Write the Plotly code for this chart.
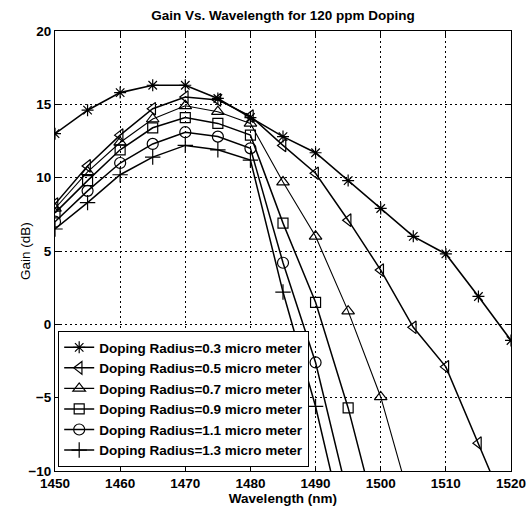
import plotly.graph_objects as go

wavelength = [1450, 1455, 1460, 1465, 1470, 1475, 1480, 1485, 1490, 1495, 1500, 1505, 1510, 1515, 1520]

gain_r03 = [13.0, 14.6, 15.8, 16.3, 16.3, 15.4, 14.1, 12.8, 11.7, 9.8, 7.9, 6.0, 4.8, 1.9, -1.1]
gain_r05 = [8.2, 10.8, 12.9, 14.7, 15.5, 15.3, 14.2, 12.2, 10.3, 7.1, 3.7, -0.2, -2.9, -8.1, -13.4]
gain_r07 = [7.9, 10.4, 12.4, 14.0, 14.9, 14.5, 13.7, 9.7, 6.0, 0.9, -4.95, -12.8, None, None, None]
gain_r09 = [7.6, 9.8, 11.9, 13.4, 14.1, 13.7, 12.9, 6.9, 1.5, -5.7, -14.3, None, None, None, None]
gain_r11 = [7.0, 9.1, 11.0, 12.3, 13.1, 12.8, 12.0, 4.2, -2.6, -11.8, None, None, None, None, None]
gain_r13 = [6.5, 8.3, 10.2, 11.4, 12.2, 11.9, 11.2, 2.2, -5.6, -15.1, None, None, None, None, None]

labels = [
    "Doping Radius=0.3 micro meter",
    "Doping Radius=0.5 micro meter",
    "Doping Radius=0.7 micro meter",
    "Doping Radius=0.9 micro meter",
    "Doping Radius=1.1 micro meter",
    "Doping Radius=1.3 micro meter",
]
series = [gain_r03, gain_r05, gain_r07, gain_r09, gain_r11, gain_r13]
symbols = ["asterisk-open", "triangle-left-open", "triangle-up-open",
           "square-open", "circle-open", "cross-thin-open"]
sizes = [10, 11, 11, 10, 11, 11]
widths = [1.6, 1.5, 1.1, 1.5, 1.5, 1.5]

x_ticks = [1450, 1460, 1470, 1480, 1490, 1500, 1510, 1520]
y_ticks = [-10, -5, 0, 5, 10, 15, 20]

FONT = "Liberation Sans, Arial, sans-serif"
FS = 13.5

fig = go.Figure()
for lab, ys, sym, sz, w in zip(labels, series, symbols, sizes, widths):
    fig.add_trace(go.Scatter(
        x=wavelength, y=ys, name=lab, mode="lines+markers",
        line=dict(color="black", width=w),
        marker=dict(symbol=sym, size=sz, color="black",
                    line=dict(color="black", width=1.2)),
        cliponaxis=True,
    ))

axis_common = dict(
    showline=True, linecolor="black", linewidth=1, mirror="ticks",
    ticks="inside", ticklen=5, tickcolor="black",
    showgrid=True, gridcolor="black", griddash="2px,3px", gridwidth=0.8,
    zeroline=False, automargin=False,
    tickfont=dict(family=FONT, size=FS, color="black", weight="bold"),
)

fig.update_layout(
    width=532, height=508,
    margin=dict(l=55, r=21, t=31, b=37, autoexpand=False),
    paper_bgcolor="white", plot_bgcolor="white",
    title=dict(text="Gain Vs. Wavelength for 120 ppm Doping",
               x=0.5, xref="paper", xanchor="center",
               y=0.970, yref="container", yanchor="middle",
               font=dict(family=FONT, size=FS, color="black", weight="bold")),
    xaxis=dict(range=[1450, 1520], tickvals=x_ticks,
               title=dict(text="Wavelength (nm)", standoff=1,
                          font=dict(family=FONT, size=FS, color="black", weight="bold")),
               **axis_common),
    yaxis=dict(range=[-10, 20], tickvals=y_ticks, **axis_common),
    annotations=[dict(text="Gain (dB)", xref="paper", yref="paper",
                      x=-0.066, y=0.5, xanchor="center", yanchor="middle",
                      textangle=-90, showarrow=False,
                      font=dict(family=FONT, size=FS, color="black"))],
    legend=dict(x=0.007, y=0.009, xanchor="left", yanchor="bottom",
                bgcolor="white", bordercolor="black", borderwidth=1,
                font=dict(family=FONT, size=FS, color="black", weight="bold"),
                tracegroupgap=0, itemwidth=30),
    showlegend=True,
)

fig.write_html(
    "out.html",
    config={"displayModeBar": False},
    post_script="document.body.style.margin='0';document.body.style.overflow='hidden';",
)
